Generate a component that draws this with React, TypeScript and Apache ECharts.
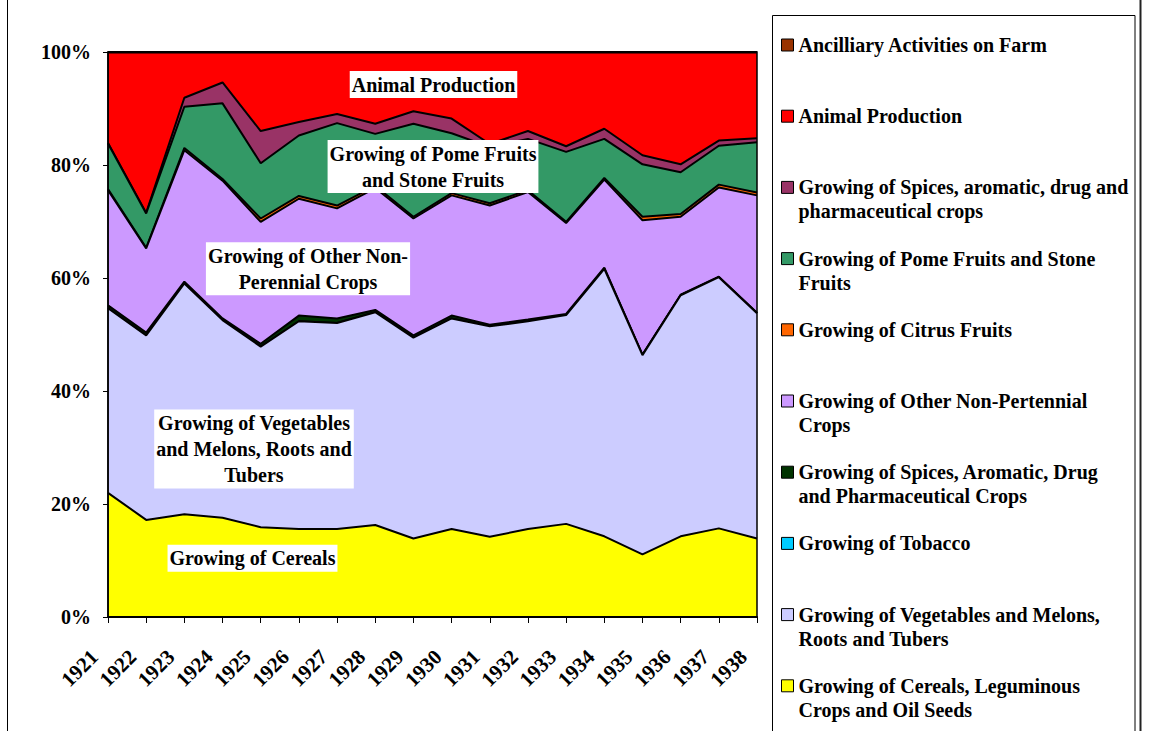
import React, { useEffect, useRef } from "react";
import * as echarts from "echarts";

const years = ["1921", "1922", "1923", "1924", "1925", "1926", "1927", "1928", "1929", "1930", "1931", "1932", "1933", "1934", "1935", "1936", "1937", "1938"];

// shares of farm output (%), bottom layer first
const cereals = [22.0, 17.2, 18.2, 17.6, 15.9, 15.6, 15.6, 16.3, 13.9, 15.6, 14.2, 15.6, 16.5, 14.3, 11.1, 14.3, 15.7, 13.9];
const vegetables = [32.7, 32.7, 40.9, 35.0, 32.0, 36.8, 36.5, 37.7, 35.6, 37.3, 37.3, 36.8, 37.0, 47.4, 35.3, 42.7, 44.5, 39.9];
const tobacco = [0, 0, 0, 0, 0, 0, 0, 0, 0, 0, 0, 0, 0, 0, 0, 0, 0, 0];
const spicesDrug = [0.5, 0.5, 0.3, 0.3, 0.5, 1.0, 0.8, 0.4, 0.4, 0.5, 0.3, 0.3, 0.2, 0.2, 0.1, 0.1, 0.1, 0.1];
const otherCrops = [20.4, 14.9, 23.3, 24.4, 21.6, 20.7, 19.5, 21.6, 20.7, 21.3, 21.1, 22.6, 16.1, 15.6, 23.8, 13.8, 15.8, 20.8];
const citrus = [0.2, 0.1, 0.4, 0.3, 0.6, 0.5, 0.5, 0.4, 0.3, 0.4, 0.4, 0.3, 0.2, 0.3, 0.6, 0.5, 0.5, 0.5];
const pome = [8.1, 6.1, 7.3, 13.4, 9.8, 10.7, 14.6, 9.2, 16.5, 10.6, 10.0, 9.1, 12.4, 6.9, 9.3, 7.4, 6.9, 8.9];
const spicesAromatic = [0.1, 0.1, 1.6, 3.7, 5.7, 2.4, 1.6, 1.8, 2.2, 2.6, 0.5, 1.4, 1.0, 1.8, 1.6, 1.4, 0.9, 0.7];
const animal = [16.0, 28.4, 8.0, 5.3, 13.9, 12.3, 10.9, 12.6, 10.4, 11.7, 16.2, 13.9, 16.6, 13.5, 18.2, 19.8, 15.6, 15.2];
const ancilliary = [0.1, 0.1, 0.1, 0.1, 0.1, 0.1, 0.1, 0.1, 0.1, 0.1, 0.1, 0.1, 0.1, 0.1, 0.1, 0.1, 0.1, 0.1];

const seriesNames = [
  "Growing of Cereals, Leguminous Crops and Oil Seeds",
  "Growing of Vegetables and Melons, Roots and Tubers",
  "Growing of Tobacco",
  "Growing of Spices, Aromatic, Drug and Pharmaceutical Crops",
  "Growing of Other Non-Pertennial Crops",
  "Growing of Citrus Fruits",
  "Growing of Pome Fruits and Stone Fruits",
  "Growing of Spices, aromatic, drug and pharmaceutical crops",
  "Animal Production",
  "Ancilliary Activities on Farm",
];
const legendLines = [
  ["Growing of Cereals, Leguminous", "Crops and Oil Seeds"],
  ["Growing of Vegetables and Melons,", "Roots and Tubers"],
  ["Growing of Tobacco"],
  ["Growing of Spices, Aromatic, Drug", "and Pharmaceutical Crops"],
  ["Growing of Other Non-Pertennial", "Crops"],
  ["Growing of Citrus Fruits"],
  ["Growing of Pome Fruits and Stone", "Fruits"],
  ["Growing of Spices, aromatic, drug and", "pharmaceutical crops"],
  ["Animal Production"],
  ["Ancilliary Activities on Farm"],
];
const colors = ["#FFFF00", "#CCCCFF", "#00CCFF", "#003300", "#CC99FF", "#FF6600", "#339966", "#993366", "#FF0000", "#993300"];
const seriesValues = [cereals, vegetables, tobacco, spicesDrug, otherCrops, citrus, pome, spicesAromatic, animal, ancilliary];
const percentTicks = [0, 20, 40, 60, 80, 100];

const areaLabels = [
  { text: "Animal Production", x: 433.5, y: 84.5 },
  { text: "Growing of Pome Fruits\nand Stone Fruits", x: 433, y: 166.5 },
  { text: "Growing of Other Non-\nPerennial Crops", x: 308, y: 268.7 },
  { text: "Growing of Vegetables\nand Melons, Roots and\nTubers", x: 254, y: 449 },
  { text: "Growing of Cereals", x: 252.5, y: 558.3 },
];

const FONT = '"Liberation Serif", "Times New Roman", serif';

export default function App() {
  const ref = useRef<HTMLDivElement>(null);
  useEffect(() => {
    const chart = echarts.init(ref.current as HTMLDivElement, undefined, { renderer: "svg" });
    const totals = years.map((_, i) => seriesValues.reduce((s, arr) => s + arr[i], 0));
    const nameToLegend: Record<string, string> = {};
    // every legend entry is three text rows high; the first real row sits level with the swatch
    seriesNames.forEach((n, i) => {
      const l = legendLines[i];
      nameToLegend[n] = l.length > 1 ? " \n" + l[0] + "\n" + l[1] : " \n" + l[0] + "\n ";
    });

    const series = seriesValues.map((arr, k) => ({
      name: seriesNames[k],
      type: "line",
      stack: "total",
      data: arr.map((v, i) => (v / totals[i]) * 100),
      symbol: "none",
      clip: false,
      z: 20 - k,
      itemStyle: { color: colors[k] },
      lineStyle: { color: "#000", width: 2 },
      areaStyle: { color: colors[k], opacity: 1 },
      emphasis: { disabled: true },
    }));

    const legendData = seriesNames
      .map((n, k) => ({
        name: n,
        itemStyle: { color: colors[k], borderColor: "#000", borderWidth: 1 },
      }))
      .reverse();

    const graphics: any[] = [
      { type: "line", shape: { x1: 7.5, y1: -5, x2: 7.5, y2: 740 }, style: { stroke: "#000", lineWidth: 1 }, z: 100 },
      { type: "line", shape: { x1: 1140.5, y1: -5, x2: 1140.5, y2: 740 }, style: { stroke: "#222", lineWidth: 2 }, z: 100 },
      { type: "rect", shape: { x: 772.5, y: 15.5, width: 362.5, height: 760 }, style: { stroke: "#000", fill: "none", lineWidth: 1 }, z: 100 },
    ];
    areaLabels.forEach((l) =>
      graphics.push({
        type: "text",
        x: l.x,
        y: l.y,
        z: 100,
        style: {
          text: l.text,
          align: "center",
          verticalAlign: "middle",
          fill: "#000",
          fontFamily: FONT,
          fontWeight: "bold",
          fontSize: 20,
          lineHeight: 26,
          backgroundColor: "#fff",
          padding: [1, 2, 0, 2],
        },
      })
    );

    chart.setOption({
      animation: false,
      backgroundColor: "#fff",
      grid: { left: 108, right: 392, top: 52, bottom: 114, show: true, borderColor: "#000", borderWidth: 1.5, backgroundColor: "transparent", z: 30 },
      xAxis: {
        type: "category",
        data: years,
        boundaryGap: false,
        z: 40,
        axisLine: { lineStyle: { color: "#000", width: 2 } },
        axisTick: { show: true, length: 6, lineStyle: { color: "#000", width: 1 } },
        axisLabel: { interval: 0, rotate: 45, margin: 23, padding: [0, 19, 0, 0], color: "#000", fontFamily: FONT, fontWeight: "bold", fontSize: 21 },
        splitLine: { show: false },
      },
      yAxis: {
        type: "value",
        min: percentTicks[0],
        max: percentTicks[percentTicks.length - 1],
        interval: 20,
        z: 40,
        axisLine: { show: true, lineStyle: { color: "#000", width: 1.5 } },
        axisTick: { show: true, length: 5, lineStyle: { color: "#000" } },
        axisLabel: { formatter: "{value}%", margin: 17, color: "#000", fontFamily: FONT, fontWeight: "bold", fontSize: 20 },
        splitLine: { show: false },
      },
      legend: {
        orient: "vertical",
        left: 781,
        top: 9,
        padding: 0,
        itemWidth: 12,
        itemHeight: 12,
        itemGap: -0.8,
        icon: "rect",
        selectedMode: false,
        formatter: (name: string) => nameToLegend[name] || name,
        textStyle: { color: "#000", fontFamily: FONT, fontWeight: "bold", fontSize: 20, lineHeight: 24 },
        data: legendData,
      },
      series,
      graphic: graphics,
    });
    return () => chart.dispose();
  }, []);
  return <div ref={ref} style={{ position: "fixed", left: 0, top: 0, width: 1149, height: 731, background: "#fff" }} />;
}
